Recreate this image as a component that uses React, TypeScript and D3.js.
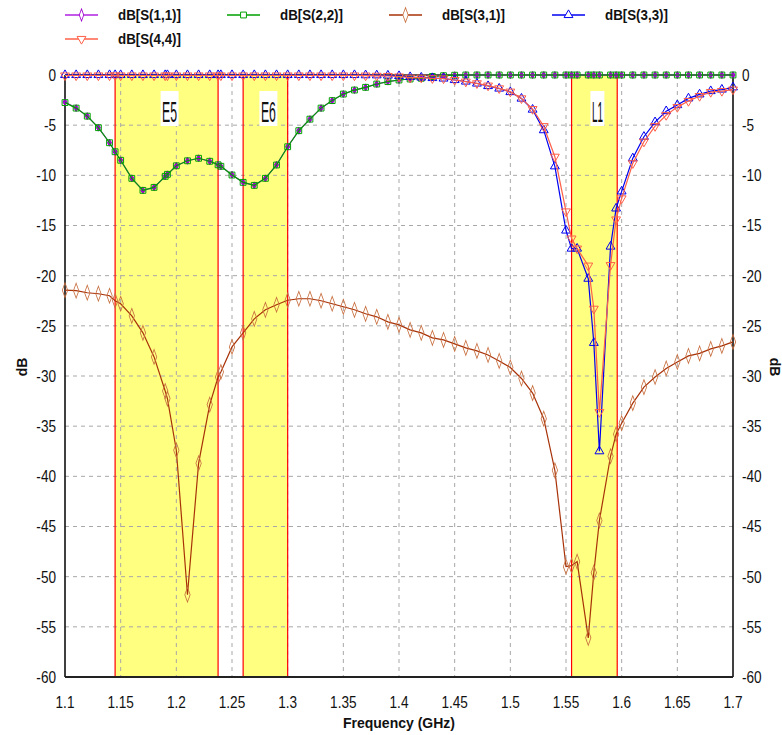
import React from "react";
import * as d3 from "d3";

// frequency points (GHz) of the sweep, with the extra points the solver added
const freq = [
  1.1, 1.11, 1.12, 1.13, 1.14, 1.145, 1.15, 1.16, 1.17, 1.18, 1.19, 1.192, 1.2, 1.21, 1.22, 1.23, 1.2375,
  1.24, 1.25, 1.26, 1.27, 1.28, 1.29, 1.3, 1.31, 1.32, 1.33, 1.34, 1.35, 1.36, 1.37, 1.38, 1.39, 1.4,
  1.41, 1.42, 1.43, 1.44, 1.45, 1.46, 1.47, 1.48, 1.49, 1.5, 1.51, 1.52, 1.53, 1.54, 1.55, 1.555, 1.56,
  1.57, 1.575, 1.58, 1.59, 1.595, 1.6, 1.61, 1.62, 1.63, 1.64, 1.65, 1.66, 1.67, 1.68, 1.69, 1.7,
];

const s11 = [
  -2.7, -3.3, -4.1, -5.25, -6.75, -7.65, -8.5, -10.3, -11.5, -11.2, -10.1, -9.9, -9.05, -8.55, -8.3, -8.6, -8.95,
  -9.1, -9.95, -10.7, -11.0, -10.3, -8.95, -7.15, -5.55, -4.4, -3.3, -2.55, -1.9, -1.5, -1.23, -0.9, -0.66, -0.5,
  -0.4, -0.33, -0.15, -0.07, -0.02, 0, 0, 0, 0, 0, 0, 0, 0, 0, 0, 0, 0,
  0, 0, 0, 0, 0, 0, 0, 0, 0, 0, 0, 0, 0, 0, 0, 0,
];

const s22 = [
  -2.75, -3.3, -4.1, -5.25, -6.75, -7.65, -8.5, -10.3, -11.5, -11.2, -10.1, -9.9, -9.05, -8.55, -8.3, -8.6, -8.95,
  -9.1, -9.97, -10.7, -11.0, -10.3, -8.97, -7.15, -5.55, -4.4, -3.3, -2.55, -1.9, -1.5, -1.23, -0.9, -0.66, -0.5,
  -0.4, -0.33, -0.15, -0.07, -0.02, 0, 0, 0, 0, 0, 0, 0, 0, 0, 0, 0, 0,
  0, 0, 0, 0, 0, 0, 0, 0, 0, 0, 0, 0, 0, 0, 0, 0,
];

const s31 = [
  -21.45, -21.5, -21.7, -21.8, -22.0, -22.5, -22.8, -24.0, -25.7, -28.1, -31.5, -32.25, -37.4, -51.8, -38.7, -32.85, -30.1,
  -29.6, -27.1, -25.7, -24.3, -23.4, -22.9, -22.45, -22.3, -22.3, -22.5, -22.8, -23.1, -23.4, -23.8, -24.1, -24.6, -24.9,
  -25.4, -25.7, -26.2, -26.4, -26.8, -27.2, -27.5, -27.9, -28.5, -29.15, -30.25, -31.7, -34.25, -39.4, -49.0, -48.9, -48.5,
  -56.1, -49.6, -44.4, -38.0, -35.8, -34.7, -32.7, -31.1, -30.1, -29.25, -28.6, -28.0, -27.75, -27.3, -27.0, -26.6,
];

const s33 = [
  0, 0, 0, 0, 0, 0, 0, 0, 0, 0, 0, 0, 0, 0, 0, 0, 0,
  0, 0, 0, 0, 0, 0, 0, 0, 0, 0, 0, 0, 0, -0.02, -0.03, -0.05, -0.1,
  -0.2, -0.25, -0.3, -0.35, -0.5, -0.65, -0.85, -1.1, -1.35, -1.7, -2.35, -3.45, -5.5, -9.1, -15.5, -17.3, -17.3,
  -20.3, -26.7, -37.5, -17.1, -13.3, -11.6, -8.3, -6.15, -4.7, -3.6, -3.0, -2.33, -1.93, -1.6, -1.45, -1.23,
];

const s44 = [
  -0.05, -0.05, -0.05, -0.05, -0.05, -0.05, -0.05, -0.05, -0.05, -0.05, -0.05, -0.05, -0.05, -0.05, -0.05, -0.05, -0.05,
  -0.05, -0.05, -0.05, -0.05, -0.05, -0.05, -0.05, -0.05, -0.05, -0.05, -0.05, -0.05, -0.05, -0.06, -0.08, -0.1, -0.15,
  -0.27, -0.27, -0.33, -0.35, -0.5, -0.66, -0.83, -1.06, -1.33, -1.66, -2.33, -3.4, -5.1, -8.15, -13.6, -16.3, -17.3,
  -19.0, -23.3, -33.6, -18.95, -14.4, -12.3, -8.8, -6.65, -5.1, -4.0, -3.2, -2.6, -2.1, -1.7, -1.6, -1.45,
];

const seriesNames = ["dB[S(1,1)]", "dB[S(2,2)]", "dB[S(3,1)]", "dB[S(3,3)]", "dB[S(4,4)]"];

// GNSS bands shaded in the plot
const bandNames = ["E5", "E6", "L1"];
const bandStart = [1.145, 1.26, 1.555];
const bandEnd = [1.2375, 1.3, 1.596];

const xTicks = [1.1, 1.15, 1.2, 1.25, 1.3, 1.35, 1.4, 1.45, 1.5, 1.55, 1.6, 1.65, 1.7];
const yTicks = [0, -5, -10, -15, -20, -25, -30, -35, -40, -45, -50, -55, -60];

const W = 782;
const H = 735;
const M = { left: 65, right: 733, top: 75, bottom: 677 };
const FONT = "'Liberation Sans Narrow', 'Arial Narrow', 'Liberation Sans', Arial, sans-serif";

const styles = [
  { line: "#b020e0", mark: "#a000d0", shape: d3.symbolDiamond, size: 14, rot: 0, fill: "#a000d0" },
  { line: "#00a000", mark: "#00a000", shape: d3.symbolSquare, size: 34, rot: 0, fill: "none" },
  { line: "#a83208", mark: "#c87040", shape: d3.symbolDiamond, size: 44, rot: 0, fill: "none" },
  { line: "#0000f0", mark: "#0000f0", shape: d3.symbolTriangle, size: 34, rot: 0, fill: "none" },
  { line: "#ff6048", mark: "#ff6048", shape: d3.symbolTriangle, size: 34, rot: 180, fill: "none" },
];

// condensed look of the original labels
const Narrow = ({ x, y, anchor, size, children }: any) => (
  <text
    transform={`translate(${x},${y}) scale(0.8,1)`}
    dy="0.35em"
    textAnchor={anchor}
    fontSize={size}
    fill="#111"
  >
    {children}
  </text>
);

const App = () => {
  const x = d3.scaleLinear().domain([1.1, 1.7]).range([M.left, M.right]);
  const y = d3.scaleLinear().domain([0, -60]).range([M.top, M.bottom]);
  const allSeries = [s11, s22, s31, s33, s44];

  const line = d3
    .line<number>()
    .x((_, i) => x(freq[i]))
    .y((d) => y(d));

  const legendPos = [
    [65, 15],
    [227, 15],
    [389, 15],
    [552, 15],
    [65, 39],
  ];

  return (
    <svg
      width={W}
      height={H}
      style={{ position: "absolute", left: 0, top: 0, background: "#fff" }}
      fontFamily={FONT}
    >
      {/* bands */}
      {bandNames.map((b, i) => (
        <rect
          key={b}
          x={x(bandStart[i])}
          y={M.top}
          width={x(bandEnd[i]) - x(bandStart[i])}
          height={M.bottom - M.top}
          fill="#ffff80"
        />
      ))}

      {/* grid */}
      {xTicks.slice(1, -1).map((t) => (
        <line key={"gx" + t} x1={x(t)} x2={x(t)} y1={M.top} y2={M.bottom} stroke="#a8a8a8" strokeDasharray="4,4" />
      ))}
      {yTicks.slice(1, -1).map((t) => (
        <line key={"gy" + t} x1={M.left} x2={M.right} y1={y(t)} y2={y(t)} stroke="#a8a8a8" strokeDasharray="4,4" />
      ))}

      {/* band edges and labels */}
      {bandNames.map((b, i) => {
        const cx = (x(bandStart[i]) + x(bandEnd[i])) / 2 + 3;
        const w = b === "L1" ? 14 : 18;
        return (
          <g key={"e" + b}>
            <line x1={x(bandStart[i])} x2={x(bandStart[i])} y1={M.top} y2={M.bottom} stroke="#ff0000" strokeWidth={1.2} />
            <line x1={x(bandEnd[i])} x2={x(bandEnd[i])} y1={M.top} y2={M.bottom} stroke="#ff0000" strokeWidth={1.2} />
            <rect x={cx - w / 2} y={91} width={w} height={35} fill="#fff" />
            <text
              x={cx}
              y={122}
              textAnchor="middle"
              fontSize={29}
              textLength={w - 3}
              lengthAdjust="spacingAndGlyphs"
              fill="#111"
            >
              {b}
            </text>
          </g>
        );
      })}

      {/* frame */}
      <line x1={M.left} x2={M.right} y1={M.top} y2={M.top} stroke="#222" strokeWidth={1.5} />
      <line x1={M.left} x2={M.left} y1={M.top} y2={M.bottom} stroke="#000" strokeWidth={1.5} />
      <line x1={M.right} x2={M.right} y1={M.top} y2={M.bottom} stroke="#000" strokeWidth={1.5} />
      <line x1={M.left} x2={M.right} y1={M.bottom} y2={M.bottom} stroke="#222" strokeWidth={2} />

      {/* series */}
      {allSeries.map((s, k) => {
        const st = styles[k];
        const sym = d3.symbol().type(st.shape).size(st.size)();
        return (
          <g key={"s" + k}>
            <path d={line(s) || ""} fill="none" stroke={st.line} strokeWidth={1.2} />
            {s.map((v, i) => (
              <path
                key={i}
                d={sym || ""}
                transform={`translate(${x(freq[i])},${y(v)}) rotate(${st.rot})${k === 2 ? " scale(0.75,1.2)" : ""}`}
                fill={st.fill}
                stroke={st.mark}
                strokeWidth={1}
              />
            ))}
          </g>
        );
      })}

      {/* y tick labels */}
      {yTicks.map((t) => (
        <g key={"yt" + t}>
          <Narrow x={56} y={y(t)} anchor="end" size={17}>
            {t}
          </Narrow>
          <Narrow x={742} y={y(t)} anchor="start" size={17}>
            {t}
          </Narrow>
        </g>
      ))}

      {/* x tick labels */}
      {xTicks.map((t) => (
        <Narrow key={"xt" + t} x={x(t)} y={702} anchor="middle" size={17}>
          {t}
        </Narrow>
      ))}

      <text x={399} y={728} textAnchor="middle" fontSize={14} fontWeight="bold" fill="#111">
        Frequency (GHz)
      </text>
      <text transform="translate(27,367) rotate(-90)" textAnchor="middle" fontSize={14} fontWeight="bold" fill="#111">
        dB
      </text>
      <text transform="translate(770,367) rotate(90)" textAnchor="middle" fontSize={14} fontWeight="bold" fill="#111">
        dB
      </text>

      {/* legend */}
      {seriesNames.map((n, k) => {
        const st = styles[k];
        const [lx, ly] = legendPos[k];
        const sym = d3.symbol().type(st.shape).size(k === 0 ? 30 : st.size)();
        return (
          <g key={"lg" + k}>
            <line x1={lx} x2={lx + 33} y1={ly} y2={ly} stroke={st.line} strokeWidth={1.5} />
            <path
              d={sym || ""}
              transform={`translate(${lx + 16.5},${ly}) rotate(${st.rot})${k === 2 || k === 0 ? " scale(0.75,1.2)" : ""}`}
              fill="#fff"
              stroke={st.mark}
            />
            <text
              x={lx + 53}
              y={ly}
              dy="0.35em"
              fontSize={15}
              fontWeight="bold"
              textLength={63}
              lengthAdjust="spacingAndGlyphs"
              fill="#111"
            >
              {n}
            </text>
          </g>
        );
      })}
    </svg>
  );
};

export default App;
